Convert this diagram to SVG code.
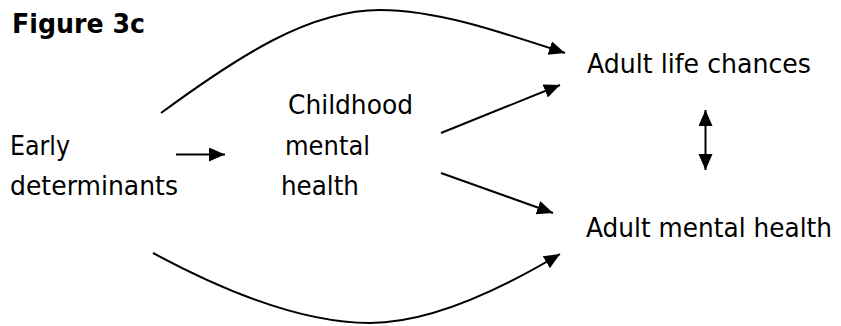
<svg xmlns="http://www.w3.org/2000/svg" width="841" height="326" viewBox="0 0 841 326">
  <style>
    text { font-family: "DejaVu Sans", Verdana, sans-serif; font-size: 27px; fill: #000; }
    .title { font-weight: bold; font-size: 26px; }
    .conn { fill: none; stroke: #000; stroke-width: 2; }
  </style>
  <defs>
    <marker id="arr" markerUnits="userSpaceOnUse" markerWidth="17" markerHeight="15" refX="16" refY="7" orient="auto-start-reverse">
      <path d="M0,0 L16,7 L0,14 z" fill="#000"/>
    </marker>
  </defs>
  <rect width="841" height="326" fill="#fff"/>
  <g id="title"><text class="title" x="12" y="33" textLength="133" lengthAdjust="spacingAndGlyphs">Figure 3c</text></g>
  <g id="early">
    <text x="10" y="155" textLength="60" lengthAdjust="spacingAndGlyphs">Early</text>
    <text x="10" y="195" textLength="168" lengthAdjust="spacingAndGlyphs">determinants</text>
  </g>
  <g id="childhood">
    <text x="288" y="114" textLength="125" lengthAdjust="spacingAndGlyphs">Childhood</text>
    <text x="285" y="155" textLength="85" lengthAdjust="spacingAndGlyphs">mental</text>
    <text x="281" y="195" textLength="78" lengthAdjust="spacingAndGlyphs">health</text>
  </g>
  <g id="lifechances"><text x="587" y="72.5" textLength="224" lengthAdjust="spacingAndGlyphs">Adult life chances</text></g>
  <g id="adultmh"><text x="586" y="236.5" textLength="246" lengthAdjust="spacingAndGlyphs">Adult mental health</text></g>
  <g id="connectors">
    <path class="conn" d="M176,154.5 L225,154.5" marker-end="url(#arr)"/>
    <path class="conn" d="M161,113 C240,55 310,10 380,10 C435,10 495,30 565,53" marker-end="url(#arr)"/>
    <path class="conn" d="M153,253 C240,300 310,323 370,323 C430,323 500,290 560,254" marker-end="url(#arr)"/>
    <path class="conn" d="M441,133 L560,85" marker-end="url(#arr)"/>
    <path class="conn" d="M441,173 L553,213" marker-end="url(#arr)"/>
    <path class="conn" d="M705.5,110 L705.5,170" marker-start="url(#arr)" marker-end="url(#arr)"/>
  </g>
</svg>
